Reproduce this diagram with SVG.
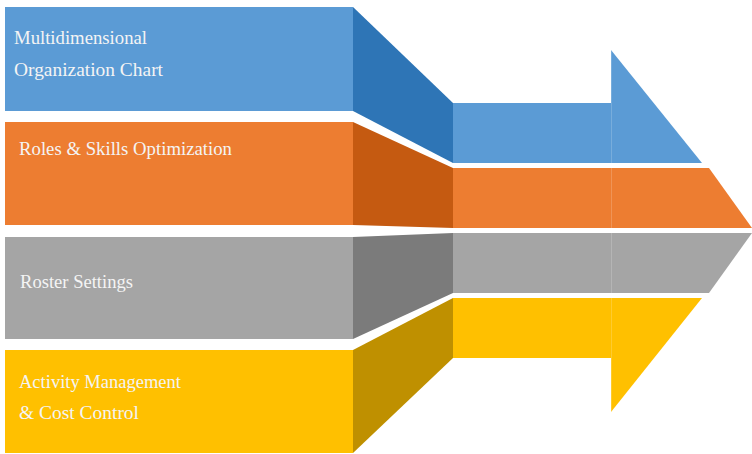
<svg xmlns="http://www.w3.org/2000/svg" width="752" height="454" viewBox="0 0 752 454">
  <style>
    .lbl { font-family: "Liberation Serif", "DejaVu Serif", serif; font-size: 18px; fill: #F4F4F4; }
    .blue { fill: #5B9BD5; } .blueD { fill: #2E75B6; }
    .orange { fill: #ED7D31; } .orangeD { fill: #C55A11; }
    .gray { fill: #A5A5A5; } .grayD { fill: #7B7B7B; }
    .yellow { fill: #FFC000; } .yellowD { fill: #BF9000; }
    .seam { stroke: #FFFFFF; stroke-opacity: 0.18; stroke-width: 1; }
  </style>
  <rect width="752" height="454" fill="#FFFFFF"/>

  <g id="band-multidimensional">
    <rect class="blue" x="5" y="7" width="348" height="104"/>
    <polygon class="blueD" points="353,7 453,103 453,163 353,111"/>
    <rect class="blue" x="453" y="103" width="158" height="60"/>
    <polygon class="blue" points="611,50 702,163 611,163"/>
    <text class="lbl" x="14" y="44" textLength="133" lengthAdjust="spacingAndGlyphs">Multidimensional</text>
    <text class="lbl" x="14" y="76" textLength="149" lengthAdjust="spacingAndGlyphs">Organization Chart</text>
  </g>

  <g id="band-roles">
    <rect class="orange" x="5" y="122" width="348" height="103"/>
    <polygon class="orangeD" points="353,122 453,168 453,228 353,225"/>
    <polygon class="orange" points="453,168 709,168 752,228 453,228"/>
    <text class="lbl" x="19" y="155" textLength="213" lengthAdjust="spacingAndGlyphs">Roles &amp; Skills Optimization</text>
  </g>

  <g id="band-roster">
    <rect class="gray" x="5" y="237" width="348" height="102"/>
    <polygon class="grayD" points="353,237 453,233 453,293 353,339"/>
    <polygon class="gray" points="453,233 752,233 709,293 453,293"/>
    <text class="lbl" x="20" y="288" textLength="113" lengthAdjust="spacingAndGlyphs">Roster Settings</text>
  </g>

  <g id="band-activity">
    <rect class="yellow" x="5" y="350" width="348" height="103"/>
    <polygon class="yellowD" points="353,350 453,298 453,358 353,453"/>
    <rect class="yellow" x="453" y="298" width="158" height="60"/>
    <polygon class="yellow" points="611,298 702,298 611,412"/>
    <text class="lbl" x="19" y="388" textLength="162" lengthAdjust="spacingAndGlyphs">Activity Management</text>
    <text class="lbl" x="19" y="419" textLength="120" lengthAdjust="spacingAndGlyphs">&amp; Cost Control</text>
  </g>

  <g id="seams">
    <line class="seam" x1="611.5" y1="50" x2="611.5" y2="412"/>
  </g>
</svg>
